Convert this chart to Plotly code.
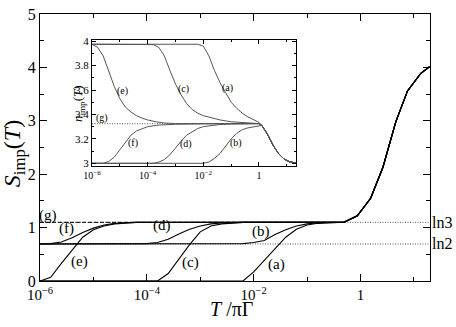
import plotly.graph_objects as go

# ---------------- main panel: S_imp(T) ----------------
# log10(T/piGamma) values and entropy values
TAIL_LOG = [-0.31, -0.06, 0.19, 0.42, 0.66, 0.88, 1.13, 1.30]
TAIL_S = [1.10, 1.22, 1.55, 2.13, 2.98, 3.56, 3.89, 4.02]

A_LOG = [-6.0, -2.4, -2.2, -2.0, -1.8, -1.6, -1.4, -1.2, -1.0, -0.8, -0.55]
A_S = [0.0, 0.0, 0.0, 0.17, 0.38, 0.60, 0.82, 0.97, 1.05, 1.08, 1.095]

B_LOG = [-6.0, -2.2, -2.0, -1.8, -1.6, -1.4, -1.2, -1.0, -0.8, -0.55]
B_S = [0.693, 0.70, 0.72, 0.76, 0.87, 0.96, 1.03, 1.07, 1.09, 1.097]

C_LOG = [-6.0, -3.8, -3.6, -3.4, -3.2, -3.0, -2.8, -2.6, -2.4, -2.2, -0.55]
C_S = [0.0, 0.0, 0.14, 0.41, 0.68, 0.92, 1.03, 1.07, 1.09, 1.097, 1.098]

D_LOG = [-6.0, -4.0, -3.8, -3.6, -3.4, -3.2, -3.0, -2.8, -2.6, -2.4, -2.2, -0.55]
D_S = [0.693, 0.70, 0.72, 0.78, 0.88, 0.97, 1.03, 1.07, 1.085, 1.095, 1.098, 1.098]

E_LOG = [-6.0, -5.8, -5.6, -5.4, -5.2, -5.0, -4.8, -4.6, -4.4, -4.2, -0.55]
E_S = [0.0, 0.07, 0.33, 0.58, 0.82, 0.96, 1.03, 1.07, 1.09, 1.097, 1.098]

F_LOG = [-6.0, -5.8, -5.6, -5.4, -5.2, -5.0, -4.8, -4.6, -4.4, -4.2, -0.55]
F_S = [0.693, 0.70, 0.73, 0.81, 0.91, 0.99, 1.05, 1.08, 1.09, 1.097, 1.098]

G_LOG = [-6.0, -0.55]
G_S = [1.0986, 1.0986]

LN3 = 1.0986
LN2 = 0.6931

# curve label positions (log10 T, S)
LABELS_MAIN = ["(a)", "(b)", "(c)", "(d)", "(e)", "(f)", "(g)"]
LABEL_MAIN_X = [-1.575, -1.86, -3.19, -3.72, -5.26, -5.51, -5.85]
LABEL_MAIN_Y = [0.31, 0.92, 0.34, 1.04, 0.37, 0.98, 1.23]

# ---------------- inset: n_imp(T) ----------------
ITAIL_LOG = [0.1, 0.3, 0.5, 0.7, 0.9, 1.1, 1.33]
ITAIL_N = [3.31, 3.24, 3.15, 3.08, 3.035, 3.012, 3.003]

IA_LOG = [-6.0, -2.2, -2.0, -1.8, -1.6, -1.4, -1.2, -1.0, -0.8, -0.6, -0.4, -0.2, 0.0]
IA_N = [3.975, 3.975, 3.96, 3.88, 3.76, 3.66, 3.58, 3.50, 3.45, 3.41, 3.38, 3.36, 3.335]

IB_LOG = [-6.0, -2.0, -1.8, -1.6, -1.4, -1.2, -1.0, -0.8, -0.6, -0.4, -0.2, 0.0]
IB_N = [3.0, 3.0, 3.01, 3.04, 3.08, 3.14, 3.20, 3.245, 3.275, 3.29, 3.30, 3.31]

IC_LOG = [-6.0, -3.8, -3.6, -3.4, -3.2, -3.0, -2.8, -2.6, -2.4, -2.2, -2.0, -1.7, -1.4, -1.0, -0.5, 0.0]
IC_N = [3.975, 3.972, 3.95, 3.88, 3.76, 3.65, 3.56, 3.49, 3.44, 3.41, 3.39, 3.37, 3.355, 3.34, 3.33, 3.325]

ID_LOG = [-6.0, -3.8, -3.6, -3.4, -3.2, -3.0, -2.8, -2.6, -2.4, -2.2, -2.0, -1.7, -1.4, -1.0, -0.5, 0.0]
ID_N = [3.0, 3.0, 3.01, 3.03, 3.07, 3.13, 3.18, 3.23, 3.26, 3.285, 3.30, 3.31, 3.318, 3.322, 3.324, 3.325]

IE_LOG = [-6.0, -5.8, -5.6, -5.4, -5.2, -5.0, -4.8, -4.6, -4.4, -4.2, -4.0, -3.7, -3.4, -3.0, -2.0, -1.0, 0.0]
IE_N = [3.975, 3.95, 3.88, 3.76, 3.63, 3.53, 3.46, 3.42, 3.39, 3.37, 3.355, 3.34, 3.33, 3.325, 3.324, 3.324, 3.325]

IF_LOG = [-6.0, -5.6, -5.4, -5.2, -5.0, -4.8, -4.6, -4.4, -4.2, -4.0, -3.6, -3.0, -2.0, -1.0, 0.0]
IF_N = [3.0, 3.0, 3.015, 3.05, 3.11, 3.17, 3.23, 3.265, 3.285, 3.30, 3.313, 3.32, 3.323, 3.324, 3.325]

IG_LOG = [-6.0, 0.0]
IG_N = [3.324, 3.324]

LABELS_INSET = ["(a)", "(b)", "(c)", "(d)", "(e)", "(f)", "(g)"]
LABEL_INSET_X = [-1.12, -0.81, -2.72, -2.63, -4.90, -4.53, -5.64]
LABEL_INSET_Y = [3.62, 3.17, 3.61, 3.16, 3.595, 3.17, 3.37]

MAIN_TICKS = [1e-6, 1e-4, 1e-2, 1]
MAIN_TICKTEXT = ["10<sup>−6</sup>", "10<sup>−4</sup>", "10<sup>−2</sup>", "1"]
MINOR_TICKS = [1e-5, 1e-3, 1e-1, 10]
INSET_YTICKS = [3, 3.2, 3.4, 3.6, 3.8, 4]
INSET_YTICKTEXT = ["3", "3.2", "3.4", "3.6", "3.8", "4"]

FONT = "Liberation Serif"


def T(logs):
    return [10.0 ** v for v in logs]


fig = go.Figure()

# reference lines ln3, ln2
for lv in (LN3, LN2):
    fig.add_trace(go.Scatter(x=T([-6.0, 1.301]), y=[lv, lv], mode="lines",
                             line=dict(color="#555", width=1, dash="1px,1.5px"),
                             showlegend=False, hoverinfo="skip"))

# (g) dashed
fig.add_trace(go.Scatter(x=T(G_LOG + TAIL_LOG), y=G_S + TAIL_S, mode="lines",
                         line=dict(color="black", width=1, dash="4px,2px"),
                         showlegend=False))

for lg, s in [(A_LOG, A_S), (B_LOG, B_S), (C_LOG, C_S), (D_LOG, D_S),
              (E_LOG, E_S), (F_LOG, F_S)]:
    fig.add_trace(go.Scatter(x=T(lg + TAIL_LOG), y=s + TAIL_S, mode="lines",
                             line=dict(color="black", width=1.1),
                             showlegend=False))

# inset
INSET_COLOR = "#555"
fig.add_trace(go.Scatter(x=T(IG_LOG + ITAIL_LOG), y=IG_N + ITAIL_N, mode="lines",
                         line=dict(color=INSET_COLOR, width=1, dash="1px,1.5px"),
                         xaxis="x2", yaxis="y2", showlegend=False))
for lg, n in [(IA_LOG, IA_N), (IB_LOG, IB_N), (IC_LOG, IC_N), (ID_LOG, ID_N),
              (IE_LOG, IE_N), (IF_LOG, IF_N)]:
    fig.add_trace(go.Scatter(x=T(lg + ITAIL_LOG), y=n + ITAIL_N, mode="lines",
                             line=dict(color=INSET_COLOR, width=1),
                             xaxis="x2", yaxis="y2", showlegend=False))

annotations = []
for t, xv, yv in zip(LABELS_MAIN, LABEL_MAIN_X, LABEL_MAIN_Y):
    annotations.append(dict(x=xv, y=yv, xref="x", yref="y", text=t, showarrow=False,
                            font=dict(family=FONT, size=15, color="black")))
for t, xv, yv in zip(LABELS_INSET, LABEL_INSET_X, LABEL_INSET_Y):
    annotations.append(dict(x=xv, y=yv, xref="x2", yref="y2", text=t, showarrow=False,
                            font=dict(family=FONT, size=10, color="black")))
annotations.append(dict(x=1.0, y=LN3, xref="paper", yref="y", text="ln3", showarrow=False,
                        xanchor="left", xshift=0, font=dict(family=FONT, size=16, color="black")))
annotations.append(dict(x=1.0, y=LN2, xref="paper", yref="y", text="ln2", showarrow=False,
                        xanchor="left", xshift=0, font=dict(family=FONT, size=16, color="black")))
# axis titles
annotations.append(dict(x=-0.11, y=0.475, xref="paper", yref="paper", xanchor="left",
                        text="<i>S</i><sub>imp</sub>(<i>T</i>)", showarrow=False, textangle=-90,
                        font=dict(family=FONT, size=24, color="black")))
annotations.append(dict(x=0.49, y=-0.105, xref="paper", yref="paper",
                        text="<i>T</i> /πΓ", showarrow=False, yanchor="middle",
                        font=dict(family=FONT, size=20, color="black")))
annotations.append(dict(x=0.072, y=0.665, xref="paper", yref="paper",
                        text="<i>n</i><sub>imp</sub>(<i>T</i>)", showarrow=False, textangle=-90,
                        font=dict(family=FONT, size=13, color="black")))

axis_common = dict(showline=True, linecolor="black", linewidth=1, mirror="allticks",
                   ticks="inside", tickcolor="black", showgrid=False, zeroline=False)

fig.update_layout(
    width=456, height=327,
    margin=dict(l=40, r=26, t=6, b=46),
    paper_bgcolor="white", plot_bgcolor="white",
    font=dict(family=FONT, color="black"),
    showlegend=False,
    annotations=annotations,
    xaxis=dict(type="log", range=[-6, 1.301], tickmode="array", tickvals=MAIN_TICKS,
               ticktext=MAIN_TICKTEXT, ticklen=7, tickfont=dict(family=FONT, size=15),
               minor=dict(tickmode="array", tickvals=MINOR_TICKS, ticklen=4, ticks="inside",
                          tickcolor="black"),
               **axis_common),
    yaxis=dict(range=[0, 5], tickmode="linear", tick0=0, dtick=1, ticklen=7,
               tickfont=dict(family=FONT, size=16),
               minor=dict(dtick=0.5, ticklen=4, ticks="inside", tickcolor="black"),
               **axis_common),
    xaxis2=dict(type="log", range=[-6, 1.33], domain=[0.1333, 0.6564], anchor="y2",
                tickmode="array", tickvals=MAIN_TICKS, ticktext=MAIN_TICKTEXT,
                ticklen=4, tickfont=dict(family=FONT, size=10),
                minor=dict(tickmode="array", tickvals=MINOR_TICKS, ticklen=2, ticks="inside",
                           tickcolor="black"),
                **axis_common),
    yaxis2=dict(range=[2.98, 4.01], domain=[0.4317, 0.9027], anchor="x2",
                tickmode="array", tickvals=INSET_YTICKS, ticktext=INSET_YTICKTEXT,
                ticklen=4, tickfont=dict(family=FONT, size=11),
                minor=dict(dtick=0.1, ticklen=2, ticks="inside", tickcolor="black"),
                **axis_common),
)

fig.write_html("out.html", config={"displayModeBar": False},
               post_script="document.body.style.margin='0';")
